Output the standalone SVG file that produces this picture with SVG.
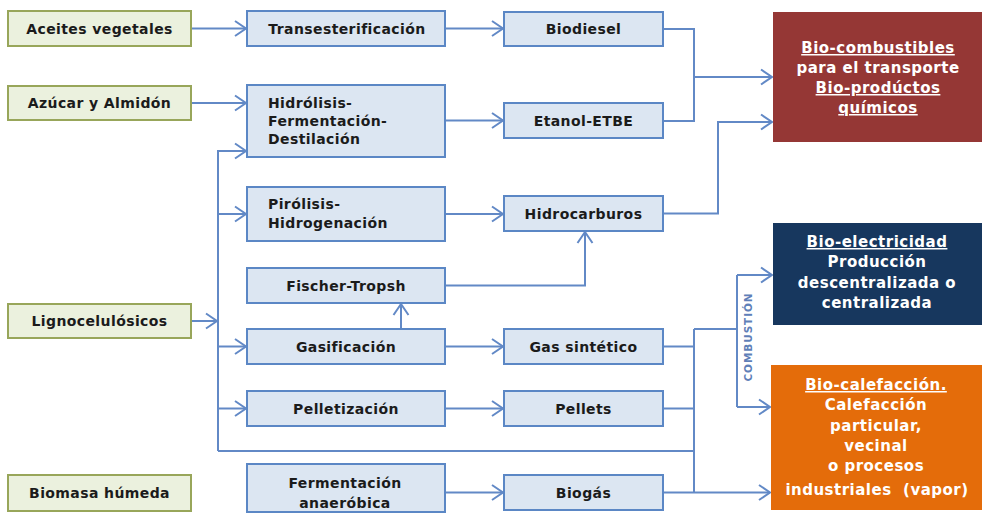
<svg xmlns="http://www.w3.org/2000/svg" width="984" height="520" viewBox="0 0 984 520">
<style>
.src rect{fill:#ebf1de;stroke:#98a65a;stroke-width:2}
.proc rect{fill:#dce6f2;stroke:#5b87c5;stroke-width:2}
.t{font-family:"DejaVu Sans","Liberation Sans",sans-serif;font-weight:bold;font-size:14px;letter-spacing:0.4px;fill:#1b1b1b}
.c{text-anchor:middle}
.w{font-family:"DejaVu Sans","Liberation Sans",sans-serif;font-weight:bold;font-size:15px;letter-spacing:0.5px;fill:#ffffff;text-anchor:middle}
.u{text-decoration:underline}
#connectors path{fill:none;stroke:#6289c6;stroke-width:2}
.a{marker-end:url(#arr)}
</style>
<defs>
<marker id="arr" markerUnits="userSpaceOnUse" viewBox="-13 -9 15 18" refX="0" refY="0" markerWidth="15" markerHeight="18" orient="auto">
<path d="M-11,-7.5 L0,0 L-11,7.5" fill="none" stroke="#6289c6" stroke-width="2"/>
</marker>
</defs>
<rect width="984" height="520" fill="#ffffff"/>
<g id="connectors">
<path class="a" d="M191,28.5 H246"/>
<path class="a" d="M191,103 H246"/>
<path class="a" d="M445,28.5 H503"/>
<path class="a" d="M445,120.5 H503"/>
<path d="M663,29 H694 V121 H663"/>
<path class="a" d="M694,77 H772"/>
<path class="a" d="M663,213.5 H718 V122 H772"/>
<path class="a" d="M191,321 H217"/>
<path class="a" d="M218,451 V151 H246"/>
<path d="M218,451 H694"/>
<path class="a" d="M218,214 H246"/>
<path class="a" d="M218,346.5 H246"/>
<path class="a" d="M218,408.5 H246"/>
<path class="a" d="M445,214 H503"/>
<path class="a" d="M445,285.5 H585 V232"/>
<path class="a" d="M401,329 V304"/>
<path class="a" d="M445,346.5 H503"/>
<path class="a" d="M445,408.5 H503"/>
<path class="a" d="M445,492.5 H503"/>
<path d="M663,346.5 H694 M663,408.5 H694 M694,329 V492.5"/>
<path class="a" d="M663,492.5 H770"/>
<path d="M694,329 H737 M737,275 V407"/>
<path class="a" d="M737,275 H772"/>
<path class="a" d="M737,407 H770"/>
<text x="748" y="337" transform="rotate(-90 748 337)" text-anchor="middle" dominant-baseline="central" font-family="DejaVu Sans, Liberation Sans, sans-serif" font-weight="bold" font-size="10.5" letter-spacing="0.9" fill="#5f7fb8">COMBUSTIÓN</text>
</g>
<g id="n-aceites" class="src"><rect x="8" y="11" width="183" height="35"/><text class="t c" x="99.5" y="33.5">Aceites vegetales</text></g>
<g id="n-azucar" class="src"><rect x="8" y="86" width="183" height="34"/><text class="t c" x="99.5" y="108">Azúcar y Almidón</text></g>
<g id="n-ligno" class="src"><rect x="8" y="304" width="183" height="34"/><text class="t c" x="99.5" y="326">Lignocelulósicos</text></g>
<g id="n-biomasa" class="src"><rect x="8" y="475" width="183" height="36"/><text class="t c" x="99.5" y="498">Biomasa húmeda</text></g>
<g id="n-trans" class="proc"><rect x="247" y="11" width="198" height="35"/><text class="t c" x="347" y="33.5">Transesterificación</text></g>
<g id="n-hidrolisis" class="proc"><rect x="247" y="85" width="198" height="72"/><text class="t" x="268" y="108">Hidrólisis-</text><text class="t" x="268" y="126">Fermentación-</text><text class="t" x="268" y="144">Destilación</text></g>
<g id="n-pirolisis" class="proc"><rect x="247" y="187" width="198" height="54"/><text class="t" x="268" y="208.5">Pirólisis-</text><text class="t" x="268" y="228">Hidrogenación</text></g>
<g id="n-fischer" class="proc"><rect x="247" y="268" width="198" height="35"/><text class="t c" x="346" y="290.5">Fischer-Tropsh</text></g>
<g id="n-gasif" class="proc"><rect x="247" y="329" width="198" height="35"/><text class="t c" x="346" y="351.5">Gasificación</text></g>
<g id="n-pelletiz" class="proc"><rect x="247" y="391" width="198" height="35"/><text class="t c" x="346" y="413.5">Pelletización</text></g>
<g id="n-ferm" class="proc"><rect x="247" y="464" width="198" height="48"/><text class="t c" x="345" y="488">Fermentación</text><text class="t c" x="345" y="507.5">anaeróbica</text></g>
<g id="n-biodiesel" class="proc"><rect x="504" y="12" width="159" height="34"/><text class="t c" x="583.5" y="34">Biodiesel</text></g>
<g id="n-etanol" class="proc"><rect x="504" y="103" width="159" height="35"/><text class="t c" x="583.5" y="125.5">Etanol-ETBE</text></g>
<g id="n-hidrocarb" class="proc"><rect x="504" y="196" width="159" height="35"/><text class="t c" x="583.5" y="218.5">Hidrocarburos</text></g>
<g id="n-gassint" class="proc"><rect x="504" y="329" width="159" height="35"/><text class="t c" x="583.5" y="351.5">Gas sintético</text></g>
<g id="n-pellets" class="proc"><rect x="504" y="391" width="159" height="35"/><text class="t c" x="583.5" y="413.5">Pellets</text></g>
<g id="n-biogas" class="proc"><rect x="504" y="475" width="159" height="35"/><text class="t c" x="583.5" y="497.5">Biogás</text></g>
<g id="n-transporte"><rect x="773" y="12" width="209" height="130" fill="#953735"/>
<text class="w u" x="878" y="53">Bio-combustibles</text><text class="w" x="878" y="73">para el transporte</text><text class="w u" x="878" y="93">Bio-prodúctos</text><text class="w u" x="878" y="113">químicos</text></g>
<g id="n-electricidad"><rect x="773" y="223" width="209" height="102" fill="#17375e"/>
<text class="w u" x="877" y="247">Bio-electricidad</text><text class="w" x="877" y="267">Producción</text><text class="w" x="877" y="288">descentralizada o</text><text class="w" x="877" y="308">centralizada</text></g>
<g id="n-calefaccion"><rect x="771" y="365" width="211" height="145" fill="#e46c0a"/>
<text class="w u" x="876" y="390">Bio-calefacción.</text><text class="w" x="876" y="410">Calefacción</text><text class="w" x="876" y="431">particular,</text><text class="w" x="876" y="451">vecinal</text><text class="w" x="876" y="471">o procesos</text><text class="w" x="877" y="495" style="white-space:pre">industriales  (vapor)</text></g>
</svg>
